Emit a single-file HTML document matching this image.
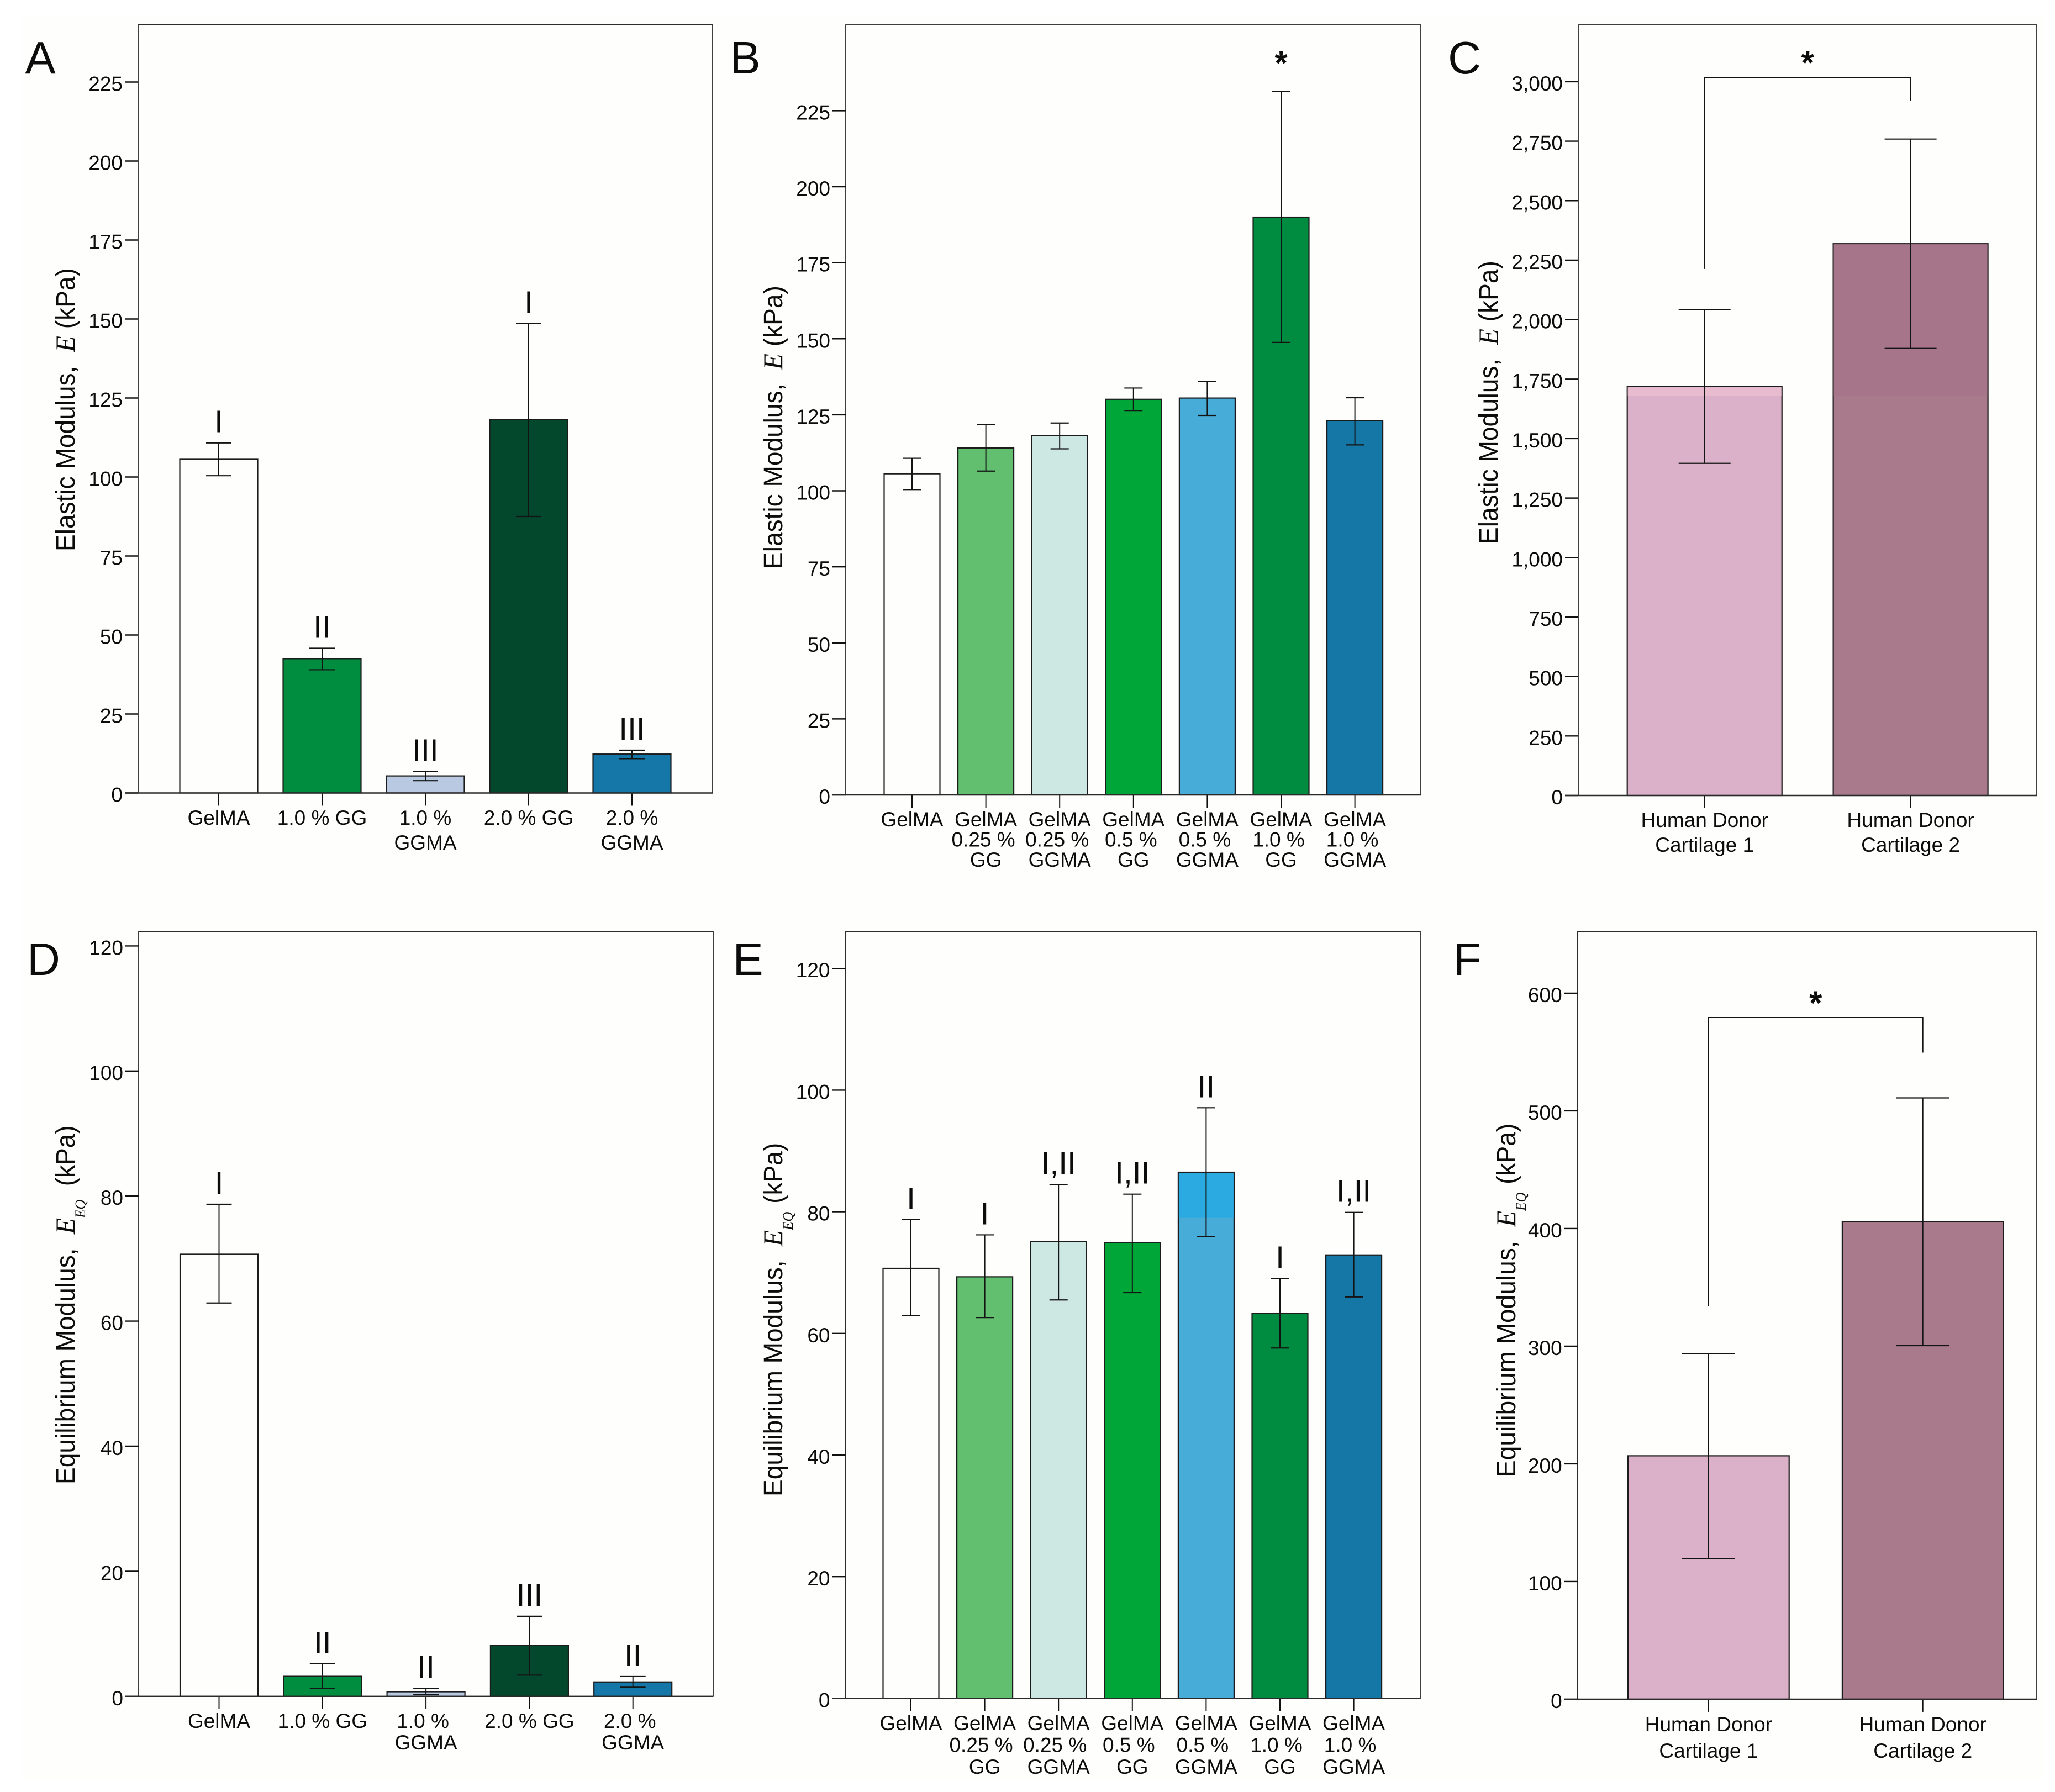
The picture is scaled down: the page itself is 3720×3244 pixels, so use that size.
<!DOCTYPE html>
<html lang="en">
<head>
<meta charset="utf-8">
<title>Elastic and equilibrium modulus bar charts</title>
<style>
html,body{margin:0;padding:0;background:#ffffff;}
svg{display:block;}
text{font-family:"Liberation Sans",sans-serif;fill:#0c0c0c;}
.letter{font-size:83px;text-anchor:middle;}
.title{font-size:48px;}
.math{font-family:"Liberation Serif",serif;font-style:italic;font-size:50px;}
.sub{font-family:"Liberation Serif",serif;font-style:italic;font-size:26px;}
.tick{font-size:37px;text-anchor:end;}
.cat{font-size:37px;text-anchor:middle;}
.grp{font-size:57px;text-anchor:middle;}
.star{font-size:60px;text-anchor:middle;font-weight:bold;}
</style>
</head>
<body>
<svg id="figure" xmlns="http://www.w3.org/2000/svg" width="3720" height="3244" viewBox="0 0 3720 3244">
  <rect x="0" y="0" width="3720" height="3244" fill="#ffffff"/>
  <rect x="40" y="30" width="3660" height="3190" fill="#fefefc"/>

  <g id="panel-a">
    <text class="letter" x="73" y="133">A</text>
    <text class="title" transform="translate(135,998) rotate(-90) scale(0.96,1)">Elastic Modulus, <tspan class="math" dx="13">E</tspan> <tspan dx="0">(kPa)</tspan></text>
  </g>
  <g id="panel-b">
    <text class="letter" x="1349" y="133">B</text>
    <text class="title" transform="translate(1416,1030) rotate(-90) scale(0.96,1)">Elastic Modulus, <tspan class="math" dx="13">E</tspan> <tspan dx="0">(kPa)</tspan></text>
  </g>
  <g id="panel-c">
    <text class="letter" x="2651" y="133">C</text>
    <text class="title" transform="translate(2711,985) rotate(-90) scale(0.96,1)">Elastic Modulus, <tspan class="math" dx="13">E</tspan> <tspan dx="0">(kPa)</tspan></text>
  </g>
  <g id="panel-d">
    <text class="letter" x="79" y="1765">D</text>
    <text class="title" transform="translate(135,2687) rotate(-90) scale(0.96,1)">Equilibrium Modulus, <tspan class="math" dx="13">E</tspan><tspan class="sub" dy="19">EQ</tspan> <tspan dy="-19" dx="12">(kPa)</tspan></text>
  </g>
  <g id="panel-e">
    <text class="letter" x="1354" y="1765">E</text>
    <text class="title" transform="translate(1416,2709) rotate(-90) scale(0.96,1)">Equilibrium Modulus, <tspan class="math" dx="13">E</tspan><tspan class="sub" dy="19">EQ</tspan> <tspan dy="-19" dx="2">(kPa)</tspan></text>
  </g>
  <g id="panel-f">
    <text class="letter" x="2656" y="1765">F</text>
    <text class="title" transform="translate(2743,2674) rotate(-90) scale(0.96,1)">Equilibrium Modulus, <tspan class="math" dx="13">E</tspan><tspan class="sub" dy="19">EQ</tspan> <tspan dy="-19" dx="2">(kPa)</tspan></text>
  </g>
</svg>

<script>
// ---- Panel A data ----
const aCategories = ['GelMA', '1.0 % GG', '1.0 %|GGMA', '2.0 % GG', '2.0 %|GGMA'];
const aMeans = [105.6, 42.5, 5.4, 118.2, 12.3];
const aUpper = [110.8, 45.8, 6.85, 148.6, 13.55];
const aLower = [100.4, 39.0, 3.9, 87.5, 10.85];
const aGroups = ['I', 'II', 'III', 'I', 'III'];
const aTicks = [0, 25, 50, 75, 100, 125, 150, 175, 200, 225];

// ---- Panel B data ----
const bCategories = ['GelMA', 'GelMA|0.25 %|GG', 'GelMA|0.25 %|GGMA', 'GelMA|0.5 %|GG', 'GelMA|0.5 %|GGMA', 'GelMA|1.0 %|GG', 'GelMA|1.0 %|GGMA'];
const bMeans = [105.6, 114.1, 118.1, 130.1, 130.5, 190.0, 123.1];
const bUpper = [110.7, 121.8, 122.3, 133.8, 135.9, 231.3, 130.6];
const bLower = [100.4, 106.5, 113.8, 126.4, 124.8, 148.8, 115.1];
const bGroups = ['', '', '', '', '', '*', ''];
const bTicks = [0, 25, 50, 75, 100, 125, 150, 175, 200, 225];

// ---- Panel C data ----
const cCategories = ['Human Donor|Cartilage 1', 'Human Donor|Cartilage 2'];
const cMeans = [1718, 2319];
const cUpper = [2042, 2759];
const cLower = [1396, 1879];
const cTicks = [0, 250, 500, 750, 1000, 1250, 1500, 1750, 2000, 2250, 2500, 2750, 3000];
const cBracketTop = 3018;
const cBracketEnds = [2213, 2920];

// ---- Panel D data ----
const dCategories = ['GelMA', '1.0 % GG', '1.0 %|GGMA', '2.0 % GG', '2.0 %|GGMA'];
const dMeans = [70.7, 3.2, 0.73, 8.15, 2.3];
const dUpper = [78.7, 5.2, 1.3, 12.8, 3.17];
const dLower = [62.9, 1.27, 0.25, 3.4, 1.45];
const dGroups = ['I', 'II', 'II', 'III', 'II'];
const dTicks = [0, 20, 40, 60, 80, 100, 120];

// ---- Panel E data ----
const eCategories = ['GelMA', 'GelMA|0.25 %|GG', 'GelMA|0.25 %|GGMA', 'GelMA|0.5 %|GG', 'GelMA|0.5 %|GGMA', 'GelMA|1.0 %|GG', 'GelMA|1.0 %|GGMA'];
const eMeans = [70.7, 69.3, 75.1, 74.9, 86.5, 63.3, 72.9];
const eUpper = [78.7, 76.2, 84.5, 82.9, 97.1, 69.0, 79.9];
const eLower = [62.9, 62.6, 65.5, 66.7, 75.9, 57.6, 66.0];
const eGroups = ['I', 'I', 'I,II', 'I,II', 'II', 'I', 'I,II'];
const eTicks = [0, 20, 40, 60, 80, 100, 120];

// ---- Panel F data ----
const fCategories = ['Human Donor|Cartilage 1', 'Human Donor|Cartilage 2'];
const fMeans = [206.8, 406];
const fUpper = [293.5, 511];
const fLower = [119.4, 300.4];
const fTicks = [0, 100, 200, 300, 400, 500, 600];
const fBracketTop = 579.3;
const fBracketEnds = [333.8, 549.5];

const NS = 'http://www.w3.org/2000/svg';
function mk(tag, attrs, parent) {
  const el = document.createElementNS(NS, tag);
  for (const k in attrs) el.setAttribute(k, attrs[k]);
  parent.appendChild(el);
  return el;
}

function drawPanel(p) {
  const root = document.getElementById(p.id);
  const yAt = function (v) { return p.zeroY - v * p.pxPerUnit; };
  const xAt = function (i) { return p.firstX + i * p.stepX; };

  const frame = mk('rect', {x: p.left, y: p.top, width: p.right - p.left, height: p.zeroY - p.top, fill: '#fefefd', stroke: '#2c2c2c', 'stroke-width': 1.8}, root);
  
  

  p.ticks.forEach(function (v) {
    const line = mk('line', {x1: p.left - 24, x2: p.left, y1: yAt(v), y2: yAt(v), stroke: '#111', 'stroke-width': 2.4}, root);
    
    
    const label = mk('text', {x: p.left - 28, y: yAt(v) + 16, class: 'tick'}, root);
    
    
    label.textContent = v.toLocaleString('en-US');
  });

  p.means.forEach(function (m, i) {
    const cx = xAt(i);
    const bar = mk('rect', {x: cx - p.barW / 2, y: yAt(m), width: p.barW, height: p.zeroY - yAt(m), fill: p.fills[i], stroke: '#1c1c1c', 'stroke-width': 2.2}, root);
    
    

    if (p.topFills && p.topFills[i]) {
      const band = mk('rect', {x: cx - p.barW / 2 + 1, y: yAt(m) + 1, width: p.barW - 2, height: yAt(p.splitValue) - yAt(m) - 1, fill: p.topFills[i]}, root);
      
      
    }

    const stem = mk('line', {x1: cx, x2: cx, y1: yAt(p.upper[i]), y2: yAt(p.lower[i]), stroke: '#141414', 'stroke-width': 2}, root);
    
    
    const capTop = mk('line', {x1: cx - p.capW / 2, x2: cx + p.capW / 2, y1: yAt(p.upper[i]), y2: yAt(p.upper[i]), stroke: '#141414', 'stroke-width': 2.2}, root);
    
    
    const capBottom = mk('line', {x1: cx - p.capW / 2, x2: cx + p.capW / 2, y1: yAt(p.lower[i]), y2: yAt(p.lower[i]), stroke: '#141414', 'stroke-width': 2.2}, root);
    
    

    const xTick = mk('line', {x1: cx, x2: cx, y1: p.zeroY, y2: p.zeroY + 23, stroke: '#111', 'stroke-width': 2}, root);
    
    

    p.categories[i].split('|').forEach(function (lineText, li, all) {
      const shift = (all.length > 1 && /%$/.test(lineText)) ? p.percentShift : 0;
      const cat = mk('text', {x: cx + shift, y: p.catY + li * p.catStep, class: 'cat'}, root);
      
      
      cat.textContent = lineText;
    });

    if (p.groups && p.groups[i]) {
      const isStar = p.groups[i] === '*';
      const grp = mk('text', {x: cx, y: yAt(p.upper[i]) - (isStar ? 31 : 19), class: isStar ? 'star' : 'grp'}, root);
      
      
      grp.textContent = p.groups[i];
    }
  });

  const base = mk('line', {x1: p.left - 24, x2: p.right, y1: p.zeroY, y2: p.zeroY, stroke: '#2a2a2a', 'stroke-width': 2.4}, root);
  
  

  if (p.bracketTop !== undefined) {
    const x0 = xAt(0);
    const x1 = xAt(1);
    const bracket = mk('path', {d: 'M' + x0 + ' ' + yAt(p.bracketEnds[0]) + ' V' + yAt(p.bracketTop) + ' H' + x1 + ' V' + yAt(p.bracketEnds[1]), fill: 'none', stroke: '#141414', 'stroke-width': 2}, root);
    
    
    const star = mk('text', {x: (x0 + x1) / 2 + p.starShift, y: yAt(p.bracketTop) - 6, class: 'star'}, root);
    
    
    star.textContent = '*';
  }
}

drawPanel({id: 'panel-a', left: 250, right: 1290, top: 44.5, zeroY: 1435.5, pxPerUnit: 5.72, firstX: 396, stepX: 187, barW: 141, capW: 46, ticks: aTicks, means: aMeans, upper: aUpper, lower: aLower, groups: aGroups, categories: aCategories, catY: 1493, catStep: 45, percentShift: 0, fills: ['#fefefd', '#008d3f', '#b8c9e1', '#03472d', '#1477a8']});

drawPanel({id: 'panel-b', left: 1531, right: 2572, top: 45, zeroY: 1439, pxPerUnit: 5.505, firstX: 1651, stepX: 133.6, barW: 101, capW: 33, ticks: bTicks, means: bMeans, upper: bUpper, lower: bLower, groups: bGroups, categories: bCategories, catY: 1496, catStep: 36.5, percentShift: -4.5, fills: ['#fefefd', '#62bf70', '#cde7e2', '#00a638', '#48acd8', '#008c40', '#1477a6']});

drawPanel({id: 'panel-c', left: 2857, right: 3687, top: 45, zeroY: 1440, pxPerUnit: 0.4307, firstX: 3085.7, stepX: 372.9, barW: 280, capW: 94, ticks: cTicks, means: cMeans, upper: cUpper, lower: cLower, categories: cCategories, catY: 1497, catStep: 45, percentShift: 0, fills: ['#dab1c8', '#a87a8c'], topFills: ['#e9bbcf', '#a67589'], splitValue: 1680, bracketTop: cBracketTop, bracketEnds: cBracketEnds, starShift: 0});

drawPanel({id: 'panel-d', left: 251, right: 1291, top: 1686.4, zeroY: 3070.8, pxPerUnit: 11.32, firstX: 396.5, stepX: 187.3, barW: 141, capW: 46, ticks: dTicks, means: dMeans, upper: dUpper, lower: dLower, groups: dGroups, categories: dCategories, catY: 3128, catStep: 39, percentShift: -5.5, fills: ['#fefefd', '#008d3f', '#b8c9e1', '#03472d', '#1477a8']});

drawPanel({id: 'panel-e', left: 1530.5, right: 2571, top: 1686.4, zeroY: 3074.4, pxPerUnit: 11.01, firstX: 1649, stepX: 133.6, barW: 101, capW: 33, ticks: eTicks, means: eMeans, upper: eUpper, lower: eLower, groups: eGroups, categories: eCategories, catY: 3132, catStep: 39.5, percentShift: -6.5, fills: ['#fefefd', '#62bf70', '#cde7e2', '#00a638', '#48acd8', '#008c40', '#1477a6'], topFills: [null, null, null, null, '#2aaae0', null, null], splitValue: 79});

drawPanel({id: 'panel-f', left: 2855.7, right: 3687, top: 1686.4, zeroY: 3075.9, pxPerUnit: 2.13, firstX: 3092.9, stepX: 387.8, barW: 291.6, capW: 96, ticks: fTicks, means: fMeans, upper: fUpper, lower: fLower, categories: fCategories, catY: 3134, catStep: 48, percentShift: 0, fills: ['#dab1c8', '#a87a8c'], bracketTop: fBracketTop, bracketEnds: fBracketEnds, starShift: 0});
</script>
</body>
</html>
